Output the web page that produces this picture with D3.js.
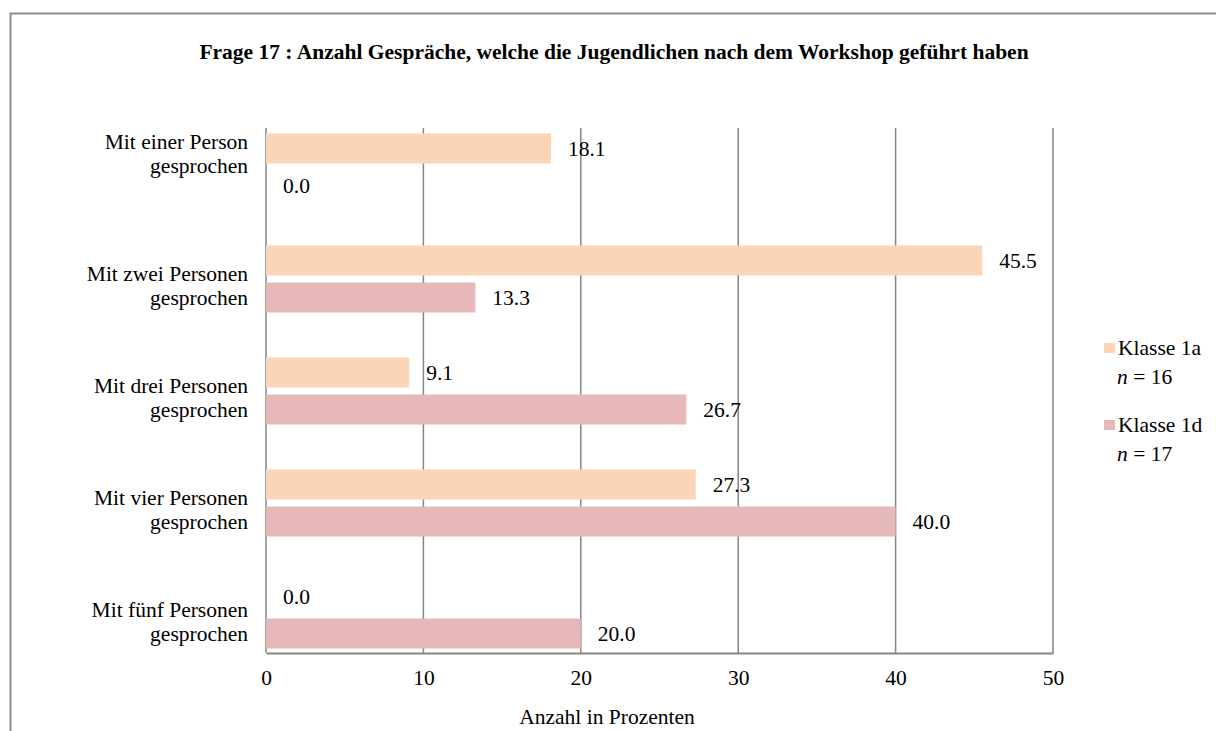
<!DOCTYPE html>
<html>
<head>
<meta charset="utf-8">
<script src="https://cdn.jsdelivr.net/npm/d3@7"></script>
<style>
  body { margin: 0; background: #fff; }
  svg text { font-family: "Liberation Serif", "Times New Roman", serif; fill: #000; }
</style>
</head>
<body>
<div id="myChart"></div>
<script>
// data
const categories = [
  ["Mit einer Person", "gesprochen"],
  ["Mit zwei Personen", "gesprochen"],
  ["Mit drei Personen", "gesprochen"],
  ["Mit vier Personen", "gesprochen"],
  ["Mit fünf Personen", "gesprochen"]
];
const seriesNames = ["Klasse 1a", "Klasse 1d"];
const seriesN = [16, 17];
const klasse1a = [18.1, 45.5, 9.1, 27.3, 0.0];
const klasse1d = [0.0, 13.3, 26.7, 40.0, 20.0];
const xTicks = [0, 10, 20, 30, 40, 50];
const colors = ["#fbd5b5", "#e6b8b7"];

const W = 1216, H = 731;
const plot = { left: 266, right: 1053, top: 128, bottom: 653 };
const fs = "21.5px";

var svg = d3.select("#myChart")
  .append("svg")
  .attr("width", W)
  .attr("height", H);

// outer chart frame
svg.append("rect")
  .attr("x", 10.5).attr("y", 13.5)
  .attr("width", 1300).attr("height", 800)
  .attr("fill", "none")
  .attr("stroke", "#8c8c8c")
  .attr("stroke-width", 2);

// title
svg.append("text")
  .attr("x", 614)
  .attr("y", 59)
  .attr("text-anchor", "middle")
  .style("font-size", fs)
  .style("font-weight", "bold")
  .text("Frage 17 : Anzahl Gespräche, welche die Jugendlichen nach dem Workshop geführt haben");

// scales
var x = d3.scaleLinear().domain([0, 50]).range([plot.left, plot.right]);
var y = d3.scaleBand().domain(d3.range(categories.length)).range([111, 671]);
var ySub = d3.scaleBand().domain(seriesNames).range([-33.5, 33.5]).paddingInner(7 / 37);

// vertical gridlines
svg.append("g")
  .selectAll("line")
  .data(xTicks)
  .join("line")
  .attr("x1", d => x(d)).attr("x2", d => x(d))
  .attr("y1", plot.top).attr("y2", plot.bottom)
  .attr("stroke", "#868686")
  .attr("stroke-width", 1.5);

// bottom axis with tick labels
var xAxis = svg.append("g")
  .attr("transform", "translate(0," + plot.bottom + ")")
  .call(d3.axisBottom(x).tickValues(xTicks).tickSize(0).tickPadding(17));
xAxis.select(".domain").attr("stroke", "#868686").attr("stroke-width", 2);
xAxis.selectAll("text")
  .style("font-size", fs)
  .style("font-family", "'Liberation Serif', 'Times New Roman', serif")
  .attr("fill", "#000");

// axis title
svg.append("text")
  .attr("x", 607)
  .attr("y", 724)
  .attr("text-anchor", "middle")
  .style("font-size", fs)
  .text("Anzahl in Prozenten");

// category labels (first one sits a bit higher, like in the original)
var catLabels = svg.append("g")
  .selectAll("text")
  .data(categories)
  .join("text")
  .attr("text-anchor", "end")
  .style("font-size", fs)
  .attr("transform", (d, i) => {
    var cy = y(i) + y.bandwidth() / 2 + (i === 0 ? -13 : 7);
    return "translate(248," + cy + ")";
  });
catLabels.selectAll("tspan")
  .data(d => d)
  .join("tspan")
  .attr("x", 0)
  .attr("y", (d, j) => j === 0 ? -5 : 19)
  .text(d => d);

// bars
var series = [klasse1a, klasse1d];
series.forEach(function (values, s) {
  var name = seriesNames[s];
  var g = svg.append("g");
  g.selectAll("rect")
    .data(values)
    .join("rect")
    .attr("x", x(0))
    .attr("y", (d, i) => y(i) + y.bandwidth() / 2 + ySub(name))
    .attr("width", d => x(d) - x(0))
    .attr("height", ySub.bandwidth())
    .attr("fill", colors[s]);
  g.selectAll("text")
    .data(values)
    .join("text")
    .attr("x", d => x(d) + 17)
    .attr("y", (d, i) => y(i) + y.bandwidth() / 2 + ySub(name) + ySub.bandwidth() / 2 + 7)
    .style("font-size", fs)
    .text(d => d.toFixed(1));
});

// legend
var legend = svg.append("g");
seriesNames.forEach(function (name, s) {
  var ly = 343 + s * 77;
  legend.append("rect")
    .attr("x", 1104).attr("y", ly)
    .attr("width", 11).attr("height", 10)
    .attr("fill", colors[s]);
  legend.append("text")
    .attr("x", 1118).attr("y", ly + 12)
    .style("font-size", fs)
    .text(name);
  var t = legend.append("text")
    .attr("x", 1117).attr("y", ly + 41)
    .style("font-size", fs);
  t.append("tspan").style("font-style", "italic").text("n");
  t.append("tspan").text(" = " + seriesN[s]);
});
</script>
</body>
</html>
